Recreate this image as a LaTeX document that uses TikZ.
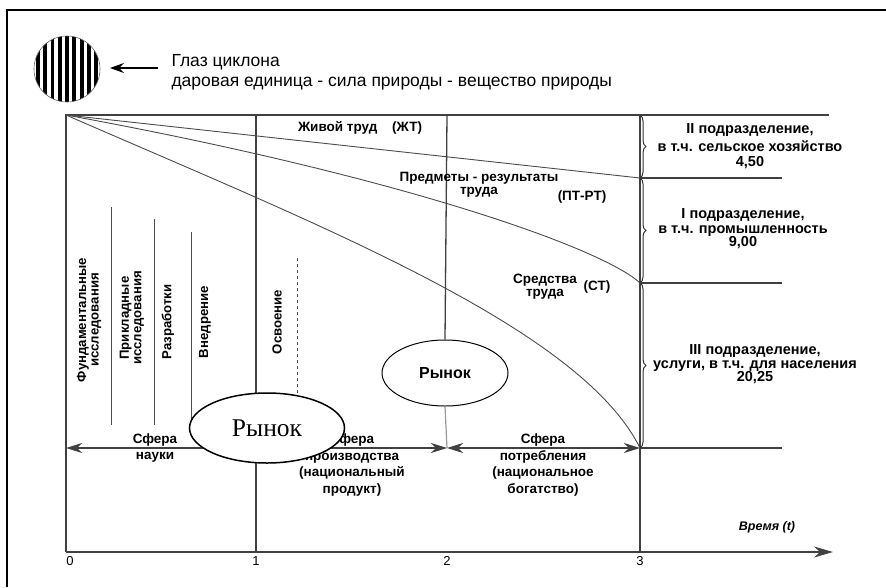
\documentclass[tikz,border=0pt]{standalone}
\usepackage{fontspec}
\setmainfont{Liberation Serif}
\setsansfont{Liberation Sans}
\usetikzlibrary{arrows.meta,shapes.geometric,decorations.pathreplacing,positioning}

\tikzset{
  lbl/.style={font=\sffamily\bfseries\fontsize{13.5}{15}\selectfont, align=center, inner sep=1pt},
  divlbl/.style={lbl, font=\sffamily\bfseries\fontsize{14.5}{15}\selectfont},
  vlbl/.style={lbl, rotate=90, font=\sffamily\bfseries\fontsize{13.2}{12.5}\selectfont},
  gridline/.style={draw=black!75, line width=1.3pt},
  hairline/.style={draw=black!70, line width=0.9pt},
  span/.style={gridline, {Stealth[length=16pt,width=10pt,inset=5pt]}-{Stealth[length=16pt,width=10pt,inset=5pt]}},
  brc/.style={decorate, decoration={brace, amplitude=6pt}, draw=black!80, line width=1pt},
  tick/.style={font=\sffamily\fontsize{13}{13}\selectfont, inner sep=1pt},
}

\begin{document}
\begin{tikzpicture}[x=1pt, y=-1pt]
  \useasboundingbox (0,0) rectangle (886,587);
  \draw[line width=1.2pt] (7,587) -- (7,10) -- (886,10);

  % eye of the cyclone
  \begin{scope}
    \clip (67,69) circle (33);
    \foreach \i in {-5,...,5}
      \fill (67+\i*7.3-1.9,30) rectangle (67+\i*7.3+1.9,110);
  \end{scope}
  \draw[black!60, line width=0.6pt] (67,69) circle (33);
  \coordinate (eye) at (110,68);
  \coordinate (eyetail) at (158,68);
  \draw[line width=1.1pt, -{Stealth[length=14pt,width=10pt,inset=5pt]}] (eyetail) -- (eye);
  \node[anchor=west, font=\sffamily\fontsize{17.5}{20}\selectfont, align=left] (eyetxt) at (168,72)
    {Глаз циклона\\даровая единица - сила природы - вещество природы};

  % frame points
  \coordinate (O) at (66,115);
  \coordinate (a0) at (66,552);
  \coordinate (a1) at (256,552);
  \coordinate (a2) at (447,552);
  \coordinate (a3) at (640,552);
  \coordinate (aend) at (833,552);
  \coordinate (t1) at (256,115);
  \coordinate (t2) at (447,115);
  \coordinate (t3) at (640,115);
  \coordinate (top) at (829,115);
  \coordinate (r1) at (640,178);
  \coordinate (r2) at (640,283);
  \coordinate (r3) at (640,448);
  \coordinate (e1) at (782,178);
  \coordinate (e2) at (782,283);
  \coordinate (e3) at (782,448);
  \coordinate (s0) at (66,448);
  \coordinate (s1) at (447,448);

  \draw[gridline] (top) -- (O) -- (a0);
  \draw[gridline] (t1) -- (a1);
  \draw[gridline] (t3) -- (a3);
  \draw[gridline] (r1) -- (e1);
  \draw[gridline] (r2) -- (e2);
  \draw[gridline] (r3) -- (e3);
  \draw[gridline, -{Stealth[length=19pt,width=11pt,inset=6pt]}] (a0) -- (aend);

  % stages
  \draw[hairline] (111,207) -- (111,425);
  \draw[hairline] (154,219) -- (154,425);
  \draw[hairline] (191,232) -- (191,425);
  \draw[hairline, dashed] (297,258) -- (297,395);

  % labour curves
  \draw[hairline] (O) -- (r1);
  \draw[hairline] (O) .. controls (410,178) and (605,250) .. (r2);
  \draw[hairline] (O) .. controls (316,224) and (580,327) .. (r3);

  % market
  \node[draw, ellipse, line width=1pt, minimum width=126, minimum height=66, inner sep=0,
        font=\sffamily\bfseries\fontsize{16}{16}\selectfont] (mkt) at (445,373) {Рынок};
  \draw[gridline] (t2) -- (mkt.north);
  \draw[black!40, line width=1.2pt] (mkt.south) -- (s1);

  \draw[span] (s0) -- (s1);
  \draw[span] (s1) -- (r3);

  % braces
  \draw[brc] (t3) -- (r1);
  \draw[brc] (r1) -- (r2);
  \draw[brc] (r2) -- (r3);

  % labels
  \node[lbl] (zt) at (360,128) {Живой труд\hspace{1.1em}(ЖТ)};
  \node[lbl] (pt) at (479,185) {Предметы - результаты\\[-2pt]труда};
  \node[lbl] (ptab) at (582,197) {(ПТ-РТ)};
  \node[lbl] (st) at (545,287) {Средства\\[-2pt]труда};
  \node[lbl] (stab) at (597,287) {(СТ)};

  \node[divlbl] (div2) at (750,146) {II подразделение,\\[3pt]в т.ч. сельское хозяйство\\[0pt]4,50};
  \node[divlbl] (div1) at (743,229) {I подразделение,\\[0pt]в т.ч. промышленность\\[-2pt]9,00};
  \node[divlbl] (div3) at (755,364) {III подразделение,\\[-1pt]услуги, в т.ч. для населения\\[-2pt]20,25};

  \node[vlbl] (fund) at (89,320) {Фундаментальные\\исследования};
  \node[vlbl] (appl) at (132,318) {Прикладные\\исследования};
  \node[vlbl] (dev) at (168,322) {Разработки};
  \node[vlbl] (impl) at (205,322) {Внедрение};
  \node[vlbl] (mast) at (277,322) {Освоение};

  \node[lbl, font=\sffamily\bfseries\fontsize{13.5}{17}\selectfont] (sci) at (155,448) {Сфера\\науки};
  \node[lbl, font=\sffamily\bfseries\fontsize{13.5}{16.6}\selectfont] (prod) at (352,465)
    {Сфера\\производства\\(национальный\\продукт)};
  \node[lbl, font=\sffamily\bfseries\fontsize{13.5}{16.6}\selectfont] (cons) at (543,465)
    {Сфера\\потребления\\(национальное\\богатство)};

  \node[draw, ellipse, fill=white, line width=1.5pt, minimum width=155, minimum height=70,
        inner sep=0, font=\fontsize{25.5}{25.5}\selectfont] (mkt2) at (267,428) {Рынок};

  \node[font=\sffamily\bfseries\itshape\fontsize{12.5}{12.5}\selectfont] (time) at (767,527) {Время (t)};
  \node[tick, below=3pt of a0, xshift=4pt] (n0) {0};
  \node[tick, below=3pt of a1] (n1) {1};
  \node[tick, below=3pt of a2] (n2) {2};
  \node[tick, below=3pt of a3] (n3) {3};
\end{tikzpicture}
\end{document}
